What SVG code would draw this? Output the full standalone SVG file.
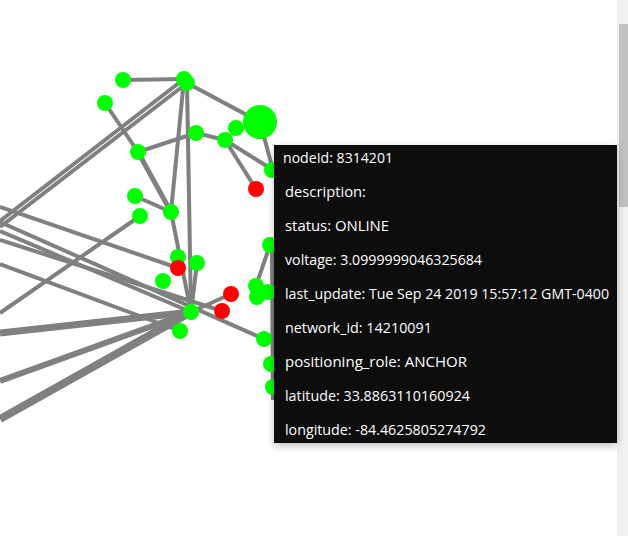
<svg xmlns="http://www.w3.org/2000/svg" width="628" height="536" viewBox="0 0 628 536">
<style>
.e{stroke:#808080;fill:none;stroke-linecap:butt}
.g{fill:#00ff00}
.r{fill:#ff0000}
.t{font-family:"Open Sans","Noto Sans","DejaVu Sans",sans-serif;font-size:14px;fill:#ffffff}
</style>
<defs>
<filter id="sh" x="-10%" y="-10%" width="120%" height="120%">
<feDropShadow dx="0" dy="3" stdDeviation="4" flood-color="#000" flood-opacity="0.25"/>
</filter>
</defs>
<rect width="628" height="536" fill="#ffffff"/>
<g id="edges">
<line class="e" stroke-width="4" x1="123" y1="80" x2="184" y2="79"/>
<line class="e" stroke-width="4" x1="184" y1="79" x2="0" y2="221"/>
<line class="e" stroke-width="4" x1="187" y1="83" x2="0" y2="227"/>
<line class="e" stroke-width="4" x1="187" y1="83" x2="260" y2="122"/>
<line class="e" stroke-width="4" x1="260" y1="122" x2="273" y2="170"/>
<line class="e" stroke-width="4" x1="225" y1="140" x2="273" y2="170"/>
<line class="e" stroke-width="4" x1="196" y1="133" x2="225" y2="140"/>
<line class="e" stroke-width="4" x1="225" y1="140" x2="256" y2="189"/>
<line class="e" stroke-width="4" x1="196" y1="133" x2="138" y2="152"/>
<line class="e" stroke-width="4" x1="105" y1="103" x2="138" y2="152"/>
<line class="e" stroke-width="5" x1="138" y1="152" x2="171" y2="212"/>
<line class="e" stroke-width="4" x1="135" y1="196" x2="171" y2="212"/>
<line class="e" stroke-width="4" x1="184" y1="79" x2="171" y2="212"/>
<line class="e" stroke-width="4" x1="187" y1="83" x2="191" y2="312"/>
<line class="e" stroke-width="4" x1="171" y1="212" x2="191" y2="312"/>
<line class="e" stroke-width="4" x1="197" y1="263" x2="191" y2="312"/>
<line class="e" stroke-width="4" x1="191" y1="312" x2="231" y2="294"/>
<line class="e" stroke-width="4" x1="140" y1="216" x2="0" y2="313"/>
<line class="e" stroke-width="4" x1="0" y1="207" x2="178" y2="268"/>
<line class="e" stroke-width="4" x1="0" y1="222" x2="264" y2="339"/>
<line class="e" stroke-width="4" x1="0" y1="231" x2="191" y2="312"/>
<line class="e" stroke-width="4" x1="0" y1="240" x2="222" y2="311"/>
<line class="e" stroke-width="4" x1="0" y1="264" x2="180" y2="331"/>
<line class="e" stroke-width="7" x1="0" y1="333" x2="191" y2="312"/>
<line class="e" stroke-width="6" x1="0" y1="381" x2="191" y2="312"/>
<line class="e" stroke-width="8" x1="0" y1="419" x2="191" y2="312"/>
<line class="e" stroke-width="4" x1="270" y1="245" x2="256" y2="286"/>
<line class="e" stroke-width="4" x1="272" y1="250" x2="273" y2="400"/>
<line class="e" stroke-width="4" x1="268" y1="292" x2="290" y2="320"/>
</g>
<g id="n1"><circle class="g" cx="123" cy="80" r="8"/></g>
<g id="n2"><circle class="g" cx="184" cy="79" r="8"/></g>
<g id="n3"><circle class="g" cx="187" cy="83" r="8"/></g>
<g id="n4"><circle class="g" cx="105" cy="103" r="8"/></g>
<g id="n5"><circle class="g" cx="260" cy="122" r="17"/></g>
<g id="n6"><circle class="g" cx="236" cy="128" r="8"/></g>
<g id="n7"><circle class="g" cx="196" cy="133" r="8"/></g>
<g id="n8"><circle class="g" cx="225" cy="140" r="8"/></g>
<g id="n9"><circle class="g" cx="138" cy="152" r="8"/></g>
<g id="n10"><circle class="g" cx="272" cy="170" r="8"/></g>
<g id="n11"><circle class="r" cx="256" cy="189" r="8"/></g>
<g id="n12"><circle class="g" cx="135" cy="196" r="8"/></g>
<g id="n13"><circle class="g" cx="140" cy="216" r="8"/></g>
<g id="n14"><circle class="g" cx="171" cy="212" r="8"/></g>
<g id="n15"><circle class="g" cx="270" cy="245" r="8"/></g>
<g id="n16"><circle class="g" cx="178" cy="257" r="8"/></g>
<g id="n17"><circle class="r" cx="178" cy="268" r="8"/></g>
<g id="n18"><circle class="g" cx="197" cy="263" r="8"/></g>
<g id="n19"><circle class="g" cx="163" cy="281" r="8"/></g>
<g id="n20"><circle class="r" cx="231" cy="294" r="8"/></g>
<g id="n21"><circle class="r" cx="222" cy="311" r="8"/></g>
<g id="n22"><circle class="g" cx="191" cy="312" r="8"/></g>
<g id="n23"><circle class="g" cx="180" cy="331" r="8"/></g>
<g id="n24"><circle class="g" cx="256" cy="286" r="8"/></g>
<g id="n25"><circle class="g" cx="268" cy="292" r="8"/></g>
<g id="n26"><circle class="g" cx="257" cy="297" r="8"/></g>
<g id="n27"><circle class="g" cx="264" cy="339" r="8"/></g>
<g id="n28"><circle class="g" cx="271" cy="364" r="8"/></g>
<g id="n29"><circle class="g" cx="273" cy="387" r="8"/></g>
<g id="scrollbar">
<rect x="617" y="0" width="11" height="536" fill="#f1f1f1"/>
<rect x="619" y="24" width="9" height="183" fill="#c1c1c1"/>
</g>
<g id="tooltip">
<rect x="274" y="145" width="343" height="298" fill="#0d0d0d" filter="url(#sh)"/>
<text class="t" x="283" y="163" textLength="110" lengthAdjust="spacingAndGlyphs">nodeId: 8314201</text>
<text class="t" x="285" y="197" textLength="81" lengthAdjust="spacingAndGlyphs">description:</text>
<text class="t" x="285" y="231" textLength="104" lengthAdjust="spacingAndGlyphs">status: ONLINE</text>
<text class="t" x="285" y="265" textLength="197" lengthAdjust="spacingAndGlyphs">voltage: 3.0999999046325684</text>
<text class="t" x="285" y="299" textLength="324" lengthAdjust="spacingAndGlyphs">last_update: Tue Sep 24 2019 15:57:12 GMT-0400</text>
<text class="t" x="285" y="333" textLength="147" lengthAdjust="spacingAndGlyphs">network_id: 14210091</text>
<text class="t" x="285" y="367" textLength="182" lengthAdjust="spacingAndGlyphs">positioning_role: ANCHOR</text>
<text class="t" x="285" y="401" textLength="185" lengthAdjust="spacingAndGlyphs">latitude: 33.8863110160924</text>
<text class="t" x="285" y="435" textLength="201" lengthAdjust="spacingAndGlyphs">longitude: -84.4625805274792</text>
</g>
</svg>
